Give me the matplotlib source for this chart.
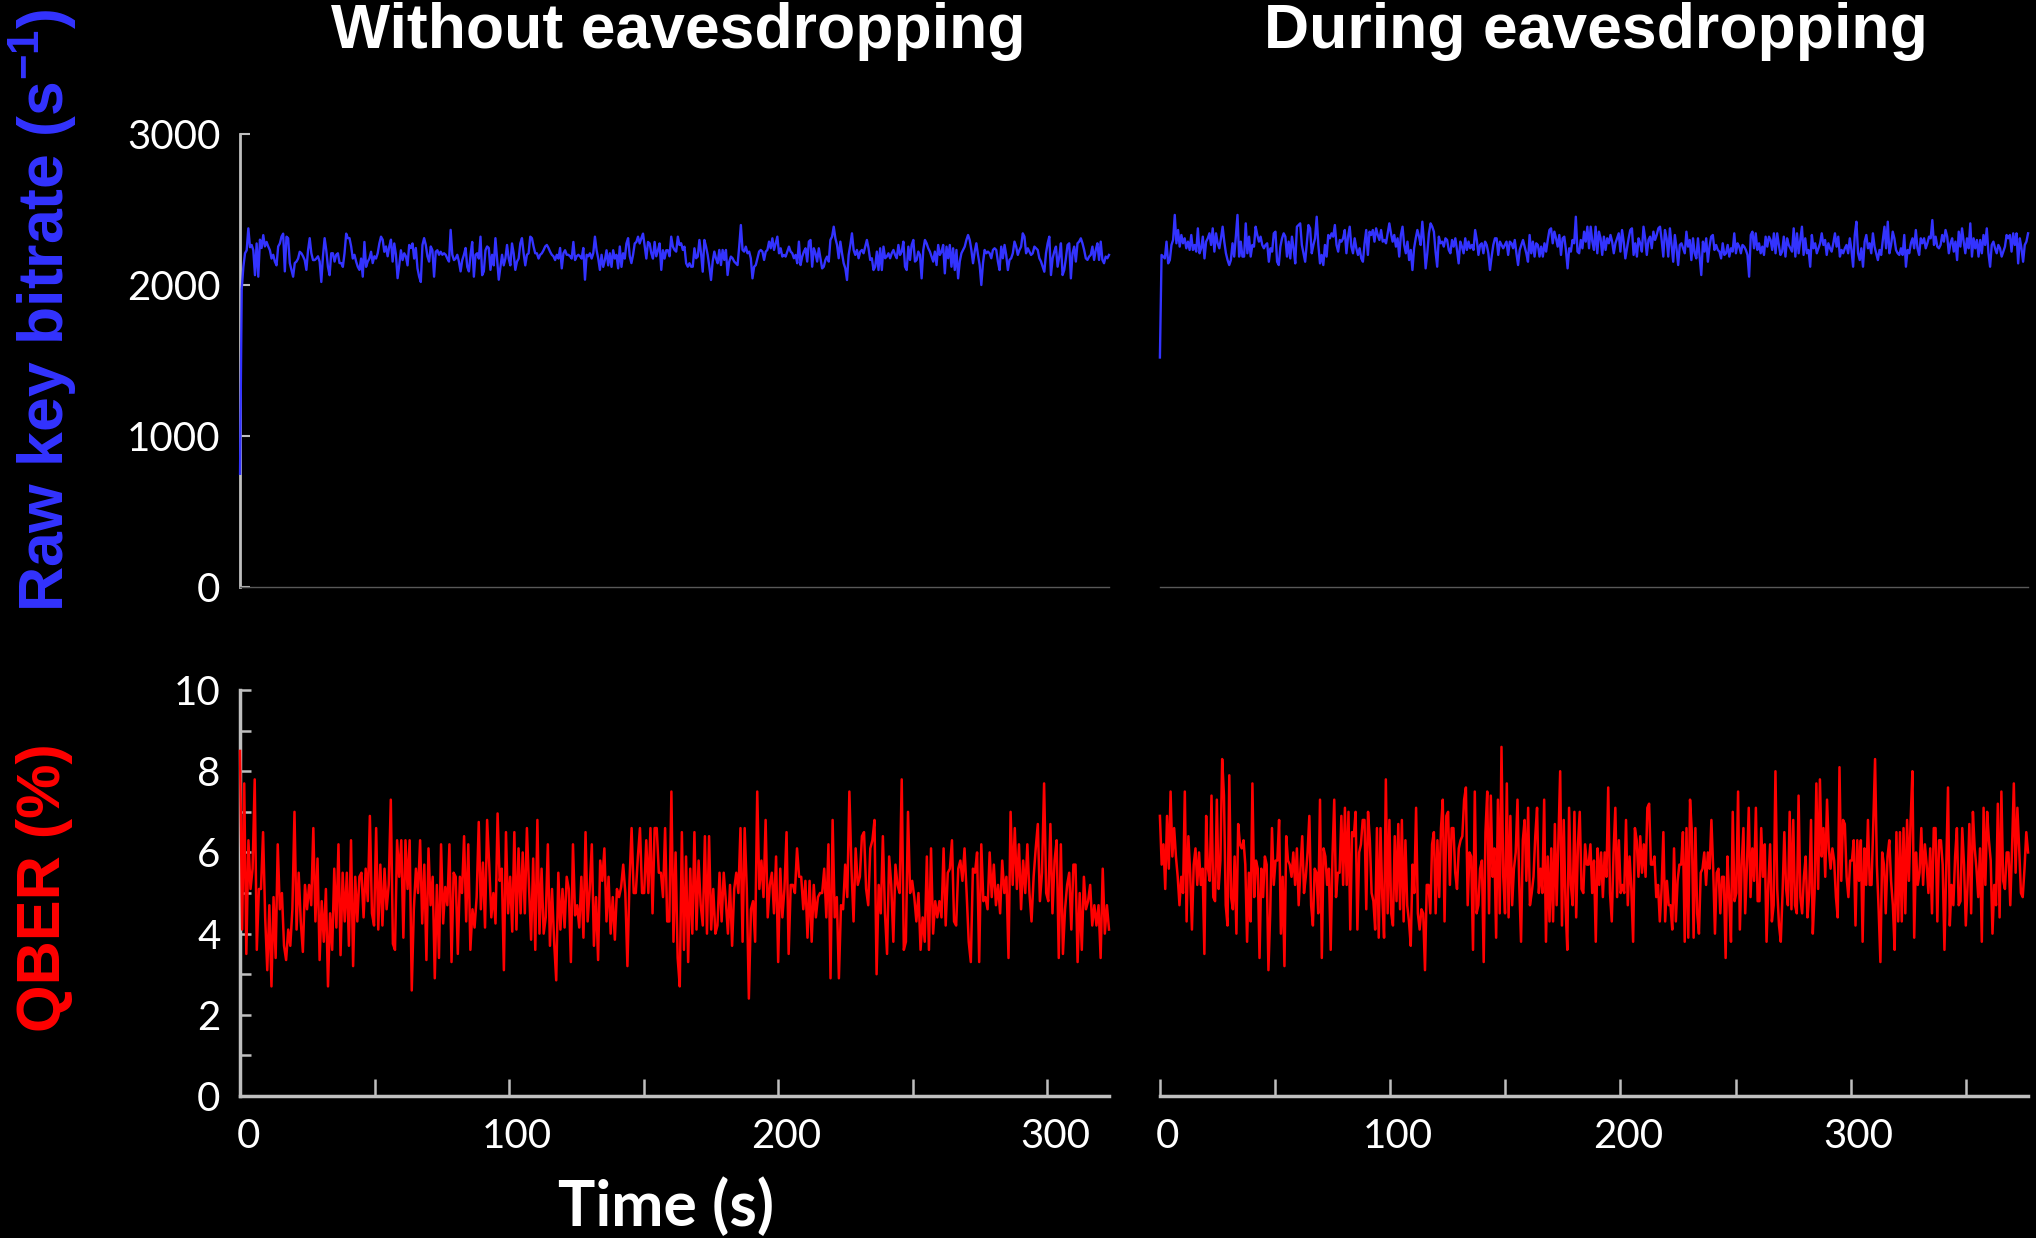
import numpy as np
import matplotlib
matplotlib.use("Agg")
import matplotlib.pyplot as plt
import matplotlib.transforms as mtransforms
from matplotlib.ticker import MultipleLocator

# ── Data (one value per sample) ───────────────────────────────────────────────
T_WITHOUT = 323   # s, length of run without eavesdropping
T_DURING = 377    # s, length of run during eavesdropping

rate_without = [
    750, 1970, 2120, 2210, 2230, 2375, 2250, 2265, 2230, 2065, 2275, 2055, 2300, 2245, 2330, 2255, 2285, 2255,
    2230, 2175, 2200, 2155, 2130, 2255, 2275, 2320, 2340, 2090, 2320, 2310, 2145, 2100, 2055, 2145, 2155, 2175,
    2220, 2210, 2190, 2165, 2100, 2230, 2310, 2210, 2165, 2165, 2175, 2190, 2155, 2020, 2190, 2310, 2230, 2120,
    2065, 2210, 2210, 2155, 2200, 2210, 2145, 2145, 2120, 2210, 2340, 2310, 2310, 2255, 2175, 2200, 2155, 2120,
    2100, 2175, 2055, 2285, 2120, 2155, 2175, 2220, 2145, 2190, 2175, 2210, 2275, 2320, 2300, 2220, 2255, 2190,
    2255, 2300, 2155, 2275, 2200, 2045, 2130, 2230, 2165, 2210, 2190, 2130, 2265, 2245, 2275, 2175, 2245, 2110,
    2055, 2020, 2265, 2310, 2265, 2190, 2155, 2255, 2230, 2055, 2220, 2230, 2200, 2220, 2200, 2210, 2200, 2175,
    2155, 2365, 2200, 2165, 2175, 2200, 2155, 2090, 2165, 2200, 2245, 2120, 2090, 2200, 2285, 2055, 2200, 2210,
    2175, 2320, 2065, 2090, 2230, 2255, 2245, 2100, 2200, 2130, 2310, 2175, 2035, 2120, 2200, 2130, 2175, 2265,
    2175, 2130, 2275, 2210, 2100, 2155, 2175, 2275, 2310, 2210, 2130, 2200, 2210, 2320, 2310, 2255, 2210, 2210,
    2175, 2200, 2210, 2230, 2255, 2265, 2245, 2220, 2200, 2190, 2165, 2200, 2175, 2245, 2110, 2210, 2230, 2200,
    2200, 2190, 2175, 2285, 2165, 2190, 2200, 2190, 2175, 2245, 2035, 2200, 2190, 2210, 2175, 2210, 2320, 2230,
    2175, 2100, 2200, 2120, 2165, 2230, 2130, 2210, 2120, 2230, 2175, 2200, 2110, 2255, 2120, 2210, 2175, 2275,
    2310, 2190, 2145, 2200, 2275, 2285, 2320, 2275, 2310, 2340, 2255, 2175, 2285, 2275, 2210, 2175, 2285, 2190,
    2230, 2275, 2100, 2230, 2175, 2230, 2230, 2190, 2320,
    2254, 2232, 2221, 2320, 2265, 2276, 2232, 2254, 2144, 2121, 2144, 2121, 2121, 2243, 2177, 2188, 2298, 2210,
    2088, 2298, 2254, 2199, 2121, 2033, 2155, 2221, 2177, 2144, 2232, 2132, 2232, 2166, 2232, 2066, 2155, 2188,
    2177, 2155, 2144, 2132, 2254, 2397, 2232, 2221, 2254, 2210, 2221, 2177, 2044, 2121, 2132, 2177, 2221, 2232,
    2221, 2166, 2221, 2232, 2287, 2243, 2309, 2232, 2276, 2320, 2210, 2243, 2188, 2199, 2188, 2221, 2254, 2221,
    2210, 2177, 2199, 2144, 2287, 2132, 2188, 2221, 2243, 2155, 2287, 2298, 2121, 2243, 2210, 2155, 2243, 2177,
    2110, 2121, 2166, 2188, 2155, 2298, 2320, 2386, 2309, 2265, 2177, 2287, 2210, 2144, 2110, 2033, 2199, 2265,
    2342, 2232, 2199, 2232, 2177, 2221, 2232, 2210, 2254, 2298, 2243, 2166, 2177, 2099, 2121, 2221, 2099, 2243,
    2099, 2254, 2177, 2188, 2210, 2177, 2210, 2232, 2199, 2177, 2265, 2199, 2221, 2287, 2121, 2099, 2254, 2166,
    2265, 2298, 2155, 2166, 2221, 2199, 2044, 2232, 2298, 2276, 2243, 2221, 2188, 2155, 2221, 2132, 2265, 2199,
    2221, 2265, 2077, 2254, 2177, 2265, 2121, 2243, 2099, 2232, 2044, 2155, 2210, 2232, 2254, 2298, 2331, 2298,
    2232, 2144, 2221, 2276, 2199, 2132, 2000, 2144, 2232, 2210, 2221, 2210, 2177, 2232, 2243, 2232, 2155, 2099,
    2254, 2177, 2265, 2199, 2099, 2166, 2177, 2210, 2287, 2254, 2199, 2232, 2254, 2342, 2320, 2210, 2243, 2221,
    2199, 2210, 2254, 2243, 2232, 2177, 2155, 2121, 2088, 2210, 2276, 2320, 2066, 2177, 2221, 2254, 2121, 2188,
    2276, 2066, 2099, 2177, 2265, 2276, 2044, 2210, 2254, 2155, 2276, 2287, 2309, 2276, 2232, 2177, 2166, 2188,
    2199, 2254, 2166, 2232, 2276, 2166, 2287, 2166, 2144, 2188, 2177, 2199,
]

rate_during = [
    1520, 2199, 2188, 2176, 2287, 2143, 2165, 2265, 2298, 2464, 2276, 2364, 2254, 2331, 2276, 2309, 2243, 2287,
    2232, 2331, 2232, 2265, 2221, 2375, 2210, 2243, 2320, 2176, 2287, 2309, 2342, 2265, 2375, 2221, 2342, 2276,
    2243, 2309, 2386, 2287, 2210, 2165, 2132, 2165, 2276, 2188, 2320, 2464, 2188, 2287, 2188, 2188, 2408, 2210,
    2320, 2188, 2265, 2254, 2386, 2331, 2287, 2320, 2265, 2243, 2265, 2276, 2154, 2243, 2221, 2342, 2353, 2154,
    2132, 2254, 2309, 2342, 2320, 2188, 2287, 2176, 2320, 2243, 2143, 2386, 2397, 2408, 2265, 2210, 2154, 2276,
    2397, 2375, 2210, 2265, 2309, 2452, 2265, 2143, 2199, 2132, 2265, 2188, 2331, 2309, 2342, 2320, 2397, 2265,
    2221, 2298, 2287, 2309, 2364, 2210, 2320, 2386, 2254, 2210, 2309, 2243, 2199, 2243, 2176, 2154, 2276, 2364,
    2199, 2353, 2331, 2364, 2287, 2375, 2331, 2298, 2364, 2287, 2298, 2276, 2342, 2408, 2342, 2287, 2331, 2254,
    2309, 2188, 2331, 2386, 2265, 2210, 2287, 2165, 2232, 2099, 2243, 2309, 2364, 2320, 2265, 2419, 2287, 2110,
    2210, 2342, 2408, 2386, 2353, 2221, 2121, 2320, 2276, 2287, 2254, 2309, 2298, 2232, 2210, 2298, 2254, 2309,
    2232, 2143, 2287, 2254, 2210, 2309, 2232, 2287, 2243, 2265, 2232, 2364, 2298, 2199, 2265, 2276, 2210, 2287,
    2265, 2210, 2099, 2188, 2265, 2309, 2309, 2199, 2287, 2265, 2243, 2265, 2287, 2199, 2287, 2276, 2243, 2298,
    2210, 2132, 2232, 2265, 2298, 2254, 2210, 2154, 2331, 2210, 2287, 2188, 2276, 2265, 2188, 2254, 2188, 2276,
    2221, 2298, 2364, 2375, 2276, 2353, 2309, 2254, 2331, 2199, 2309, 2320, 2232, 2110, 2243, 2221, 2298, 2276,
    2452, 2221, 2210, 2298, 2243, 2353, 2287, 2386, 2243, 2386, 2287, 2232,
    2386, 2210, 2353, 2309, 2199, 2320, 2232, 2309, 2276, 2331, 2287, 2210, 2276, 2309, 2342, 2221, 2364, 2287,
    2176, 2243, 2309, 2364, 2375, 2199, 2276, 2188, 2309, 2276, 2221, 2386, 2309, 2199, 2298, 2320, 2243, 2353,
    2298, 2331, 2375, 2386, 2298, 2188, 2364, 2309, 2188, 2375, 2265, 2154, 2331, 2243, 2132, 2265, 2276, 2243,
    2210, 2353, 2254, 2298, 2165, 2309, 2210, 2176, 2309, 2188, 2066, 2287, 2221, 2309, 2154, 2254, 2320, 2331,
    2232, 2265, 2232, 2221, 2176, 2276, 2199, 2210, 2265, 2188, 2243, 2221, 2342, 2210, 2276, 2254, 2210, 2265,
    2254, 2232, 2199, 2055, 2331, 2353, 2243, 2342, 2232, 2276, 2210, 2254, 2199, 2320, 2254, 2320, 2298, 2232,
    2342, 2210, 2342, 2265, 2199, 2221, 2320, 2188, 2309, 2265, 2243, 2221, 2375, 2188, 2342, 2210, 2298, 2386,
    2199, 2309, 2210, 2232, 2121, 2331, 2243, 2276, 2210, 2243, 2276, 2342, 2265, 2298, 2199, 2276, 2243, 2221,
    2276, 2342, 2254, 2320, 2188, 2232, 2210, 2243, 2265, 2210, 2309, 2232, 2121, 2331, 2419, 2210, 2165, 2243,
    2121, 2287, 2331, 2243, 2276, 2210, 2342, 2254, 2210, 2165, 2232, 2199, 2298, 2386, 2243, 2419, 2210, 2265,
    2353, 2309, 2232, 2210, 2199, 2243, 2199, 2331, 2121, 2232, 2210, 2276, 2309, 2243, 2364, 2243, 2199, 2309,
    2276, 2309, 2243, 2276, 2320, 2309, 2430, 2265, 2320, 2254, 2243, 2265, 2331, 2287, 2364, 2320, 2210, 2276,
    2309, 2221, 2287, 2165, 2353, 2254, 2375, 2287, 2210, 2309, 2243, 2408, 2188, 2309, 2243, 2298, 2188, 2298,
    2210, 2331, 2265, 2375, 2210, 2121, 2265, 2287, 2243, 2210, 2265, 2243, 2188, 2221, 2254, 2331, 2309, 2331,
    2221, 2342, 2265, 2342, 2143, 2309, 2243, 2154, 2265, 2287, 2342,
]

qber_without = [
    8.5, 4.1, 7.7, 3.5, 6.3, 5.1, 5.6, 7.8, 3.6, 5.1, 5.1, 6.5, 4.4, 3.1, 4.7, 2.7, 4.9, 3.4, 6.2, 4.6, 5.0,
    3.7, 3.35, 4.1, 3.7, 4.6, 7.0, 4.1, 5.5, 4.3, 3.55, 5.2, 4.6, 5.2, 4.7, 6.6, 4.3, 5.85, 3.35, 4.8, 3.8,
    5.1, 2.7, 4.5, 3.6, 5.6, 4.15, 6.2, 3.47, 5.5, 4.3, 5.5, 3.7, 6.3, 3.2, 5.4, 4.3, 5.4, 5.5, 4.4, 5.6, 4.8,
    6.9, 4.5, 4.2, 6.6, 4.1, 5.7, 4.2, 5.6, 4.6, 5.2, 7.3, 3.75, 3.6, 6.3, 5.4, 6.3, 3.9, 6.3, 5.1, 6.3, 2.6,
    4.6, 5.6, 5.0, 6.3, 4.25, 5.7, 3.35, 6.1, 4.7, 5.4, 2.9, 5.2, 3.4, 6.2, 4.25, 5.15, 4.7, 6.2, 3.3, 5.5,
    5.4, 3.5, 5.4, 5.0, 6.4, 4.3, 6.2, 3.6, 4.6, 4.15, 4.9, 6.75, 4.6, 5.75, 4.15, 6.8, 5.7, 4.4, 5.0, 4.25,
    6.96, 5.3, 5.6, 3.1, 6.5, 4.5, 5.4, 4.05, 6.5, 4.1, 6.1, 4.5, 6.0, 4.5, 6.6, 5.15, 3.85, 5.85, 3.6, 6.8,
    4.0, 5.6, 4.0, 4.4, 6.2, 3.7, 5.1, 3.8, 2.85, 5.5, 4.1, 5.1, 4.15, 5.4, 5.1, 3.3, 6.2, 4.45, 4.7, 4.15,
    5.4, 3.9, 6.5, 4.3, 5.1, 6.2, 3.7, 4.9, 3.35, 5.8, 5.3, 6.1, 4.3, 5.4, 4.0, 4.9, 3.85, 5.1, 4.9, 5.15,
    5.7, 5.0, 3.2, 5.3, 6.6, 5.0, 5.0, 5.9,
    6.6, 5.0, 5.0, 6.3, 5.0, 6.6, 4.5, 6.6, 6.6, 5.5, 5.5, 4.9, 6.6, 4.3, 4.3, 7.5, 3.8, 6.0, 3.4, 2.7, 6.5,
    3.6, 5.9, 3.3, 5.6, 4.0, 6.5, 4.1, 5.8, 4.7, 4.2, 6.4, 4.0, 6.4, 4.1, 5.1, 4.0, 4.2, 5.5, 4.3, 5.5, 4.8,
    4.0, 5.2, 3.7, 5.1, 5.5, 5.0, 6.6, 3.8, 6.6, 5.1, 2.4, 4.6, 4.8, 3.8, 7.5, 5.1, 5.8, 4.9, 6.8, 4.4, 5.2,
    5.5, 4.5, 5.9, 3.3, 5.6, 4.4, 5.1, 6.5, 3.5, 5.2, 5.2, 5.0, 6.1, 5.4, 5.4, 4.6, 5.3, 3.9, 5.3, 3.8, 5.2,
    4.4, 4.9, 5.0, 5.0, 5.6, 4.4, 6.2, 2.9, 6.8, 4.4, 4.9, 2.9, 4.7, 4.6, 5.7, 4.9, 7.5, 5.6, 4.3, 6.1, 5.2,
    5.4, 6.4, 6.5, 5.1, 4.7, 6.1, 6.3, 6.8, 3.0, 5.2, 4.5, 6.4, 4.5, 3.5, 5.9, 5.2, 3.8, 5.7, 5.2, 5.0, 7.8,
    3.6, 3.8, 7.0, 5.0, 5.3, 4.9, 4.3, 5.0, 3.6, 4.4, 3.8, 5.9, 3.6, 6.1, 4.0, 4.8, 4.4, 4.8, 4.4, 6.1, 4.2,
    5.5, 5.6, 6.3, 4.3, 4.2, 5.6, 5.8, 5.3, 6.1, 5.0, 3.8, 3.3, 5.6, 5.5, 6.0, 3.3, 6.2, 4.8, 4.9, 4.6, 6.0,
    4.9, 5.7, 4.7, 5.2, 4.5, 5.8, 5.0, 5.4, 3.4, 7.0, 5.2, 6.6, 5.1, 6.2, 4.6, 5.8, 5.0, 6.2, 5.0, 4.3, 5.4,
    6.1, 6.7, 4.8, 5.5, 7.7, 5.0, 4.8, 6.7, 4.5, 5.8, 6.3, 3.4, 6.2, 3.5, 4.6, 5.2, 5.5, 4.1, 5.7, 5.7, 3.3,
    5.0, 3.6, 5.4, 4.6, 4.8, 5.2, 4.2, 4.7, 4.2, 4.7, 3.4, 5.6, 4.0, 4.7, 4.1,
]

qber_during = [
    6.9, 5.7, 6.2, 5.1, 6.9, 5.6, 7.5, 5.9, 6.6, 5.9, 5.4, 4.7, 5.4, 5.0, 7.5, 4.3, 6.4, 5.5, 4.1, 5.7, 6.1,
    5.2, 6.0, 5.2, 5.6, 3.5, 6.9, 5.6, 5.3, 7.4, 4.9, 4.8, 7.3, 5.1, 5.8, 8.3, 7.4, 4.7, 4.2, 7.9, 4.9, 4.6,
    5.9, 4.0, 6.7, 6.2, 6.1, 6.3, 5.7, 3.8, 5.5, 4.3, 7.7, 4.9, 5.8, 5.6, 3.4, 5.6, 4.9, 5.9, 5.7, 3.1, 4.5,
    6.6, 5.2, 5.8, 5.8, 6.8, 4.0, 5.4, 3.2, 6.4, 5.8, 5.7, 5.4, 6.0, 5.2, 6.1, 4.7, 5.6, 6.4, 5.0, 5.4, 6.0,
    6.9, 4.7, 4.2, 5.6, 5.5, 4.5, 7.3, 3.4, 6.1, 5.9, 5.2, 5.6, 3.6, 5.9, 7.3, 4.9, 5.5, 5.5, 6.9, 5.2, 7.1,
    5.2, 7.0, 4.1, 6.5, 6.4, 7.0, 4.1, 6.0, 6.2, 6.8, 6.8, 4.6, 7.0, 6.3, 5.0, 4.8, 4.1, 6.6, 3.9, 6.6, 4.9,
    3.9, 7.8, 4.5, 6.8, 4.5, 4.2, 6.4, 4.8, 6.7, 4.6, 6.8, 4.3, 6.3, 4.7, 4.3, 3.7, 5.7, 5.0, 7.1, 4.5, 4.1,
    4.6, 4.5, 3.1, 5.2, 5.2, 4.5, 6.2, 6.5, 4.5, 6.3, 4.9, 6.6, 7.3, 4.3, 6.9, 7.0, 5.2, 6.6, 6.6, 5.5, 5.1,
    6.1, 6.3, 6.4, 7.3, 7.6, 4.7, 6.0, 5.9, 3.6, 7.5, 4.5, 4.7, 5.6, 5.8, 3.3, 6.5, 7.5, 4.5, 7.4, 5.4, 6.1,
    3.9, 7.3, 4.5, 8.6, 5.4, 4.5, 7.7, 4.4, 6.9, 4.7, 5.6, 6.0, 7.3, 5.2, 3.8, 6.3, 6.8, 5.3, 7.1, 4.7, 5.0,
    5.4, 6.4, 7.1, 5.0, 5.6, 5.0, 7.3, 3.8, 5.9, 4.3, 6.1, 4.3, 6.7, 4.7, 6.3, 8.0, 4.2, 6.8, 4.7, 3.6, 7.1,
    5.2, 4.7, 7.0, 4.4, 6.2, 7.0, 5.1, 5.0, 6.2, 5.7, 5.7,
    6.2, 5.0, 5.8, 3.8, 6.1, 5.2, 6.0, 4.9, 6.0, 5.4, 7.6, 5.0, 4.3, 6.0, 7.1, 4.9, 6.3, 5.0, 5.2, 5.0, 6.8,
    4.7, 5.9, 5.1, 3.8, 6.6, 6.3, 5.4, 6.4, 5.5, 6.2, 5.4, 7.1, 7.2, 5.7, 5.7, 5.9, 4.9, 5.2, 4.3, 5.1, 6.5,
    4.3, 5.3, 4.7, 4.7, 4.1, 6.1, 4.3, 5.3, 5.7, 5.7, 6.5, 3.8, 6.6, 3.9, 7.3, 6.5, 3.9, 6.6, 4.5, 4.0, 5.5,
    5.6, 6.0, 5.2, 6.0, 5.6, 6.8, 5.6, 4.0, 5.5, 5.6, 4.5, 5.4, 5.4, 3.4, 5.9, 4.9, 3.8, 7.0, 4.8, 5.0, 7.5,
    4.1, 5.7, 6.6, 4.5, 5.7, 7.1, 4.9, 6.1, 5.3, 7.1, 4.8, 4.8, 6.6, 5.4, 6.2, 3.8, 5.2, 6.2, 4.3, 4.7, 8.0,
    5.1, 4.2, 3.8, 5.0, 6.5, 5.1, 4.7, 7.0, 4.6, 6.8, 4.7, 4.5, 7.4, 4.9, 4.5, 5.4, 5.9, 4.4, 5.0, 6.8, 4.0,
    5.0, 7.7, 5.1, 7.8, 5.9, 6.6, 5.4, 7.3, 6.1, 5.6, 6.1, 5.8, 4.9, 4.4, 8.1, 5.3, 6.8, 6.7, 5.4, 4.9, 5.8,
    5.8, 6.3, 4.2, 6.3, 5.3, 6.3, 3.8, 6.1, 5.2, 6.8, 5.2, 5.2, 6.7, 8.3, 5.7, 4.6, 3.3, 6.0, 5.7, 4.5, 5.9,
    6.3, 5.3, 4.7, 3.6, 6.5, 4.3, 6.5, 4.3, 6.6, 4.5, 6.8, 5.3, 6.8, 8.0, 3.9, 6.0, 5.2, 5.5, 6.6, 5.2, 6.2,
    5.7, 5.0, 6.1, 4.5, 6.6, 6.6, 4.3, 6.3, 6.3, 5.7, 3.6, 5.6, 7.6, 4.2, 5.2, 4.7, 5.9, 6.6, 4.7, 4.8, 6.6,
    5.7, 4.2, 5.2, 6.7, 4.5, 7.0, 6.1, 5.6, 4.9, 6.1, 3.8, 7.1, 5.2, 7.0, 6.3, 5.8, 4.0, 5.2, 4.7, 7.2, 4.4,
    7.5, 5.3, 5.1, 6.0, 6.0, 4.7, 6.1, 7.7, 5.5, 7.1, 6.1, 5.0, 4.9, 5.6, 6.5, 6.0,
]

titles = ["Without eavesdropping", "During eavesdropping"]

# ── Style ──────────────────────────────────────────────────────────────────────
BLUE = "#3333ff"
RED = "#ff0000"
AXIS_GRAY = "#bfbfbf"
BASE_GRAY = "#595959"

plt.rcParams.update({
    "font.family": "Lato",
    "mathtext.fontset": "custom",
    "mathtext.rm": "Liberation Sans:bold",
    "mathtext.it": "Liberation Sans:bold",
    "mathtext.bf": "Liberation Sans:bold",
    "axes.facecolor": "black",
    "figure.facecolor": "black",
})

fig = plt.figure(figsize=(20.36, 12.38), dpi=100)

top_l = fig.add_axes([0.1179, 0.5258, 0.4268, 0.3660])
top_r = fig.add_axes([0.5697, 0.5258, 0.4264, 0.3660])
bot_l = fig.add_axes([0.1179, 0.1147, 0.4268, 0.3279])
bot_r = fig.add_axes([0.5697, 0.1147, 0.4264, 0.3279])

for ax in (top_l, top_r, bot_l, bot_r):
    ax.set_facecolor("black")
    ax.spines["top"].set_visible(False)
    ax.spines["right"].set_visible(False)

t_without = np.linspace(0, T_WITHOUT, len(rate_without))
t_during = np.linspace(0, T_DURING, len(rate_during))
tq_without = np.linspace(0, T_WITHOUT, len(qber_without))
tq_during = np.linspace(0, T_DURING, len(qber_during))

# ── Raw key bitrate ────────────────────────────────────────────────────────────
top_l.plot(t_without, rate_without, color=BLUE, lw=1.7, clip_on=False, zorder=4)
top_r.plot(t_during, rate_during, color=BLUE, lw=1.7, clip_on=False, zorder=4)

for ax, tmax in ((top_l, T_WITHOUT), (top_r, T_DURING)):
    ax.set_xlim(0, tmax)
    ax.set_ylim(0, 3000)
    ax.set_xticks([])
    ax.spines["bottom"].set_color(BASE_GRAY)
    ax.spines["bottom"].set_linewidth(1.0)

top_l.spines["left"].set_color(AXIS_GRAY)
top_l.spines["left"].set_linewidth(2.0)
top_l.set_yticks([0, 1000, 2000, 3000])
top_l.tick_params(axis="y", direction="in", length=7, width=1.5, color=AXIS_GRAY,
                  labelcolor="white", labelsize=29, pad=14)
top_r.spines["left"].set_visible(False)
top_r.set_yticks([])

# ── QBER ───────────────────────────────────────────────────────────────────────
bot_l.plot(tq_without, qber_without, color=RED, lw=1.8, clip_on=False, zorder=4)
bot_r.plot(tq_during, qber_during, color=RED, lw=1.8, clip_on=False, zorder=4)

label_shift = mtransforms.ScaledTranslation(8 / 100, 0, fig.dpi_scale_trans)
for ax, tmax in ((bot_l, T_WITHOUT), (bot_r, T_DURING)):
    ax.set_xlim(0, tmax)
    ax.set_ylim(0, 10)
    ax.spines["bottom"].set_color(AXIS_GRAY)
    ax.spines["bottom"].set_linewidth(2.5)
    ax.xaxis.set_major_locator(MultipleLocator(100))
    ax.xaxis.set_minor_locator(MultipleLocator(50))
    ax.tick_params(axis="x", which="both", direction="in", length=12, width=1.8,
                   color=AXIS_GRAY, labelcolor="white", labelsize=29, pad=16)
    for lbl in ax.get_xticklabels():
        lbl.set_transform(lbl.get_transform() + label_shift)

bot_l.spines["left"].set_color(AXIS_GRAY)
bot_l.spines["left"].set_linewidth(2.5)
bot_l.yaxis.set_major_locator(MultipleLocator(2))
bot_l.yaxis.set_minor_locator(MultipleLocator(1))
bot_l.tick_params(axis="y", which="both", direction="in", length=8, width=1.8,
                  color=AXIS_GRAY, labelcolor="white", labelsize=29, pad=14)
bot_r.spines["left"].set_visible(False)
bot_r.set_yticks([])

# ── Text ───────────────────────────────────────────────────────────────────────
fig.text(0.333, 0.9612, titles[0], ha="center", va="baseline", color="white",
         fontsize=45, fontweight="bold", family="Liberation Sans")
fig.text(0.7839, 0.9612, titles[1], ha="center", va="baseline", color="white",
         fontsize=45, fontweight="bold", family="Liberation Sans")

fig.text(0.0211, 0.7496, r"Raw key bitrate (s$^{\mathbf{-1}}$)", rotation=90,
         ha="center", va="center", color=BLUE, fontsize=45, fontweight="bold",
         family="Liberation Sans")
fig.text(0.022, 0.2827, "QBER (%)", rotation=90, ha="center", va="center",
         color=RED, fontsize=44, fontweight="bold", family="Liberation Sans")
fig.text(0.3271, 0.0097, "Time (s)", ha="center", va="baseline", color="white",
         fontsize=45, fontweight="bold", family="Lato")

fig.savefig("out.png", dpi=100, facecolor="black")
